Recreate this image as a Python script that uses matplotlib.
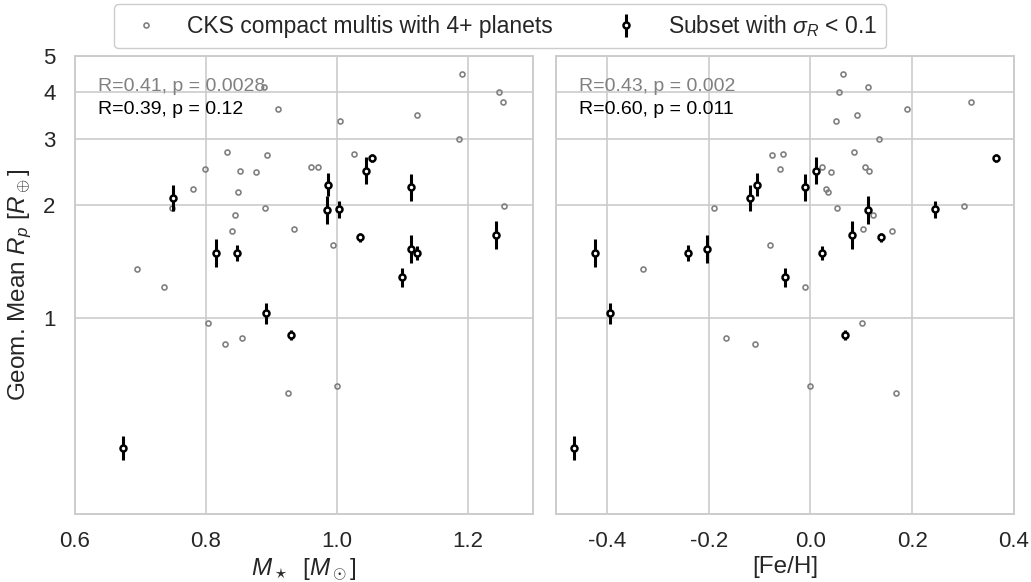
import numpy as np
import matplotlib
matplotlib.use("Agg")
import matplotlib.pyplot as plt
from matplotlib.ticker import FixedLocator, NullLocator, FuncFormatter

# Compact CKS systems hosting four or more planets
cks_mass = [1.191, 0.889, 1.248, 1.254, 0.911, 1.005, 1.123, 1.187, 0.833, 0.893,
            1.026, 0.960, 0.971, 0.798, 0.852, 0.877, 0.781, 0.849, 0.7475, 0.890,
            1.256, 0.844, 0.934, 0.840, 0.994, 0.694, 0.736, 0.8035, 0.855, 0.829,
            1.000, 0.926]
cks_feh = [0.063, 0.114, 0.057, 0.315, 0.190, 0.051, 0.091, 0.134, 0.086, -0.075,
           -0.054, 0.022, 0.107, -0.060, 0.116, 0.040, 0.030, 0.035, -0.190, 0.053,
           0.301, 0.123, 0.103, 0.160, -0.080, -0.329, -0.010, 0.102, -0.166, -0.109,
           0.000, 0.169]
cks_radius = [4.47, 4.14, 4.00, 3.77, 3.62, 3.35, 3.47, 3.00, 2.77, 2.73,
              2.74, 2.53, 2.53, 2.49, 2.46, 2.45, 2.21, 2.17, 1.97, 1.97,
              1.995, 1.88, 1.73, 1.71, 1.57, 1.35, 1.21, 0.968, 0.886, 0.85,
              0.66, 0.63]

# Systems with well measured mean planet radii
sub_mass = [0.750, 0.816, 0.847, 0.892, 0.930, 0.987, 0.985, 1.004, 1.044,
            1.054, 1.114, 1.035, 1.113, 1.122, 1.100, 1.244, 0.673]
sub_feh = [-0.118, -0.423, -0.241, -0.393, 0.068, -0.105, 0.113, 0.245, 0.010,
           0.364, -0.010, 0.139, -0.203, 0.023, -0.050, 0.081, -0.464]
sub_radius = [2.09, 1.49, 1.49, 1.03, 0.90, 2.27, 1.94, 1.95, 2.47,
              2.67, 2.23, 1.64, 1.53, 1.49, 1.285, 1.665, 0.45]
sub_sigma_dex = [0.034, 0.038, 0.021, 0.028, 0.013, 0.031, 0.038, 0.023, 0.036,
                 0.011, 0.037, 0.013, 0.038, 0.019, 0.025, 0.038, 0.033]

stats_all = ["R=0.41, p = 0.0028", "R=0.43, p = 0.002"]
stats_sub = ["R=0.39, p = 0.12", "R=0.60, p = 0.011"]

x_labels = [r"$M_\star\ \ [M_\odot]$", "[Fe/H]"]
x_limits = [(0.6, 1.3), (-0.5, 0.4)]
x_ticks = [[0.6, 0.8, 1.0, 1.2], [-0.4, -0.2, 0.0, 0.2, 0.4]]
y_ticks = [1, 2, 3, 4, 5]

plt.rcParams.update({
    "font.family": ["Liberation Sans", "DejaVu Sans"],
    "mathtext.fontset": "custom",
    "mathtext.rm": "Liberation Sans",
    "mathtext.it": "Liberation Sans:italic",
    "mathtext.bf": "Liberation Sans:bold",
    "axes.unicode_minus": False,
    "axes.edgecolor": "0.8",
    "axes.linewidth": 1.4,
    "grid.color": "0.8",
    "grid.linewidth": 1.2,
    "xtick.major.size": 0,
    "ytick.major.size": 0,
    "text.color": "0.15",
    "xtick.color": "0.15",
    "ytick.color": "0.15",
    "axes.labelcolor": "0.15",
})

fig = plt.figure(figsize=(10.31, 5.82), dpi=100)
W, H = 1031, 582
ax1 = fig.add_axes([75 / W, 1 - 514 / H, 458 / W, 458 / H])
ax2 = fig.add_axes([556 / W, 1 - 514 / H, 458 / W, 458 / H], sharey=ax1)

r = np.array(sub_radius)
s = np.array(sub_sigma_dex)
yerr = np.vstack([r - r * 10 ** (-s), r * 10 ** s - r])

for i, (ax, x_all, x_sub) in enumerate([(ax1, cks_mass, sub_mass),
                                         (ax2, cks_feh, sub_feh)]):
    ax.set_axisbelow(True)
    ax.grid(True)
    h_all, = ax.plot(x_all, cks_radius, "o", ls="none", ms=3.6, mfc="none",
                     mec="grey", mew=1.2, zorder=2,
                     label="CKS compact multis with 4+ planets")
    h_sub = ax.errorbar(x_sub, sub_radius, yerr=yerr, fmt="o", ms=4.3,
                        mfc="white", mec="black", mew=1.8, ecolor="black",
                        elinewidth=2.2, capsize=0, zorder=3,
                        label=r"Subset with $\sigma_R$ < 0.1")
    ax.set_yscale("log")
    ax.set_ylim(0.3, 5)
    ax.set_xlim(*x_limits[i])
    ax.xaxis.set_major_locator(FixedLocator(x_ticks[i]))
    ax.xaxis.set_major_formatter(FuncFormatter(lambda v, p: f"{v:.1f}"))
    ax.yaxis.set_major_locator(FixedLocator(y_ticks))
    ax.yaxis.set_minor_locator(NullLocator())
    ax.yaxis.set_major_formatter(FuncFormatter(lambda v, p: f"{v:g}"))
    ax.tick_params(axis="x", labelsize=16, pad=12)
    ax.tick_params(axis="y", labelsize=16, pad=14)
    ax.set_xlabel(x_labels[i], fontsize=17.5, labelpad=3)
    ax.text(0.051, 0.933, stats_all[i], transform=ax.transAxes, color="grey",
            fontsize=14, va="center", ha="left", zorder=1)
    ax.text(0.051, 0.884, stats_sub[i], transform=ax.transAxes, color="black",
            fontsize=14, va="center", ha="left", zorder=4)

ax2.tick_params(axis="y", labelleft=False)
ax1.set_ylabel(r"Geom. Mean $R_p$ [$R_\oplus$]", fontsize=17.5)
ax1.yaxis.set_label_coords(-0.09, 0.5)

fig.legend([h_all, h_sub], [h_all.get_label(), h_sub.get_label()],
           loc="upper center", bbox_to_anchor=(0.485, 0.993), ncol=2,
           fontsize=16.5, frameon=True, edgecolor="0.8", fancybox=True,
           framealpha=1.0, borderaxespad=0.0, columnspacing=2.2)

fig.savefig("out.png", dpi=100)
